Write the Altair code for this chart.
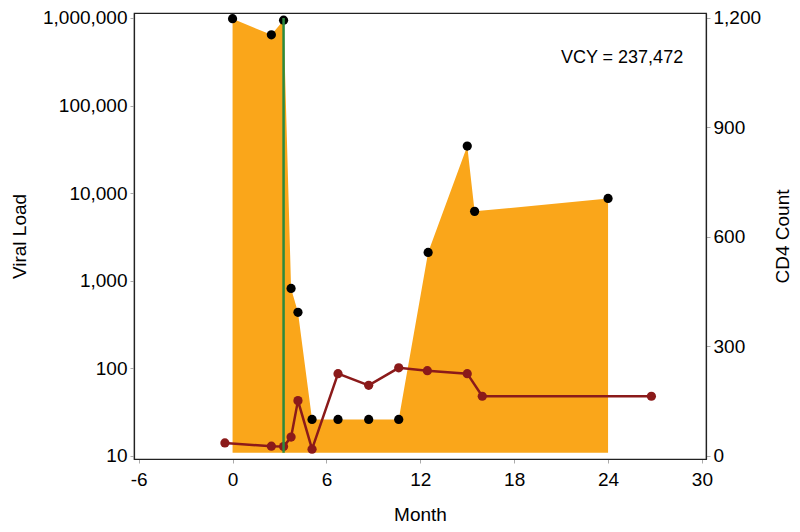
import altair as alt
import pandas as pd

# Viral load measurements (months, copies/mL)
vl_month = [0.0, 2.48, 3.26, 3.74, 4.18, 5.08, 6.74, 8.7, 10.62, 12.5, 15.0, 15.47, 24.0]
vl_value = [980000, 641000, 942000, 815, 435, 26, 26, 26, 26, 2100, 34400, 6180, 8690]

# CD4 counts
cd4_month = [-0.49, 2.48, 3.26, 3.74, 4.18, 5.08, 6.74, 8.7, 10.62, 12.45, 15.0, 15.96, 26.77]
cd4_value = [35, 26, 25, 51, 151, 18, 225, 193, 241, 233, 225, 163, 163]

# ART start marker
art_month = [3.26]
art_low = [10.8]
art_high = [1000000]

x_ticks = [-6, 0, 6, 12, 18, 24, 30]
vl_ticks = [10, 100, 1000, 10000, 100000, 1000000]
cd4_ticks = [0, 300, 600, 900, 1200]

vcy_label = ["VCY = 237,472"]
vcy_pos_x = [28.8]
vcy_pos_y = [350000]

area_base = 10.8

FONT = "Liberation Sans"

vl_df = pd.DataFrame({"Month": vl_month, "VL": vl_value, "base": [area_base] * len(vl_month)})
cd4_df = pd.DataFrame({"Month": cd4_month, "CD4": cd4_value})
art_df = pd.DataFrame({"Month": art_month, "lo": art_low, "hi": art_high})
txt_df = pd.DataFrame({"Month": vcy_pos_x, "VL": vcy_pos_y, "label": vcy_label})

xscale = alt.Scale(domain=[-6.3, 30.26], nice=False, zero=False)
xaxis = alt.Axis(values=x_ticks, title="Month", grid=False, labelFlush=False,
                 labelExpr="datum.value < 0 ? '-' + abs(datum.value) : '' + datum.value")
vlscale = alt.Scale(type="log", domain=[9.18, 1139000], nice=False)
cd4scale = alt.Scale(domain=[-9, 1213.6], nice=False, zero=False)

area = alt.Chart(vl_df).mark_area(color="#FAA61A", opacity=1).encode(
    x=alt.X("Month:Q", scale=xscale, axis=xaxis),
    y=alt.Y("VL:Q", scale=vlscale,
            axis=alt.Axis(values=vl_ticks, format=",.0f", title="Viral Load",
                          grid=False, orient="left", titlePadding=13)),
    y2="base:Q",
)

vl_pts = alt.Chart(vl_df).mark_circle(color="black", size=85, opacity=1).encode(
    x=alt.X("Month:Q", scale=xscale),
    y=alt.Y("VL:Q", scale=vlscale, axis=None),
)

cd4_line = alt.Chart(cd4_df).mark_line(color="#8B1A1A", strokeWidth=2.5).encode(
    x=alt.X("Month:Q", scale=xscale),
    y=alt.Y("CD4:Q", scale=cd4scale,
            axis=alt.Axis(values=cd4_ticks, format=",.0f", title="CD4 Count",
                          grid=False, orient="right", titlePadding=32,
                          titleAngle=270)),
)

cd4_pts = alt.Chart(cd4_df).mark_circle(color="#8B1A1A", size=85, opacity=1).encode(
    x=alt.X("Month:Q", scale=xscale),
    y=alt.Y("CD4:Q", scale=cd4scale, axis=None),
)

art_rule = alt.Chart(art_df).mark_rule(color="#2D8A3E", strokeWidth=2.5).encode(
    x=alt.X("Month:Q", scale=xscale),
    y=alt.Y("lo:Q", scale=vlscale, axis=None),
    y2="hi:Q",
)

vcy_text = alt.Chart(txt_df).mark_text(
    align="right", baseline="middle", font=FONT, fontSize=18, color="black"
).encode(
    x=alt.X("Month:Q", scale=xscale),
    y=alt.Y("VL:Q", scale=vlscale, axis=None),
    text="label:N",
)

chart = alt.layer(area, vl_pts, cd4_line, cd4_pts, art_rule, vcy_text).resolve_scale(
    y="independent"
).properties(
    width=572,
    height=446,
    autosize=alt.AutoSizeParams(type="none"),
    padding={"left": 126, "top": 5, "right": 86, "bottom": 65},
).configure_view(
    stroke="#222222", strokeWidth=1.2
).configure_axis(
    labelFont=FONT, titleFont=FONT, labelFontSize=19, titleFontSize=19,
    titleFontWeight="normal", labelColor="black", titleColor="black",
    domainColor="#222222", domainWidth=1.2, tickColor="#aaaaaa", tickSize=4,
    labelPadding=3,
).configure_axisX(
    labelPadding=7, titlePadding=16,
)

chart.save("out.html", embed_options={"renderer": "svg", "actions": False})
